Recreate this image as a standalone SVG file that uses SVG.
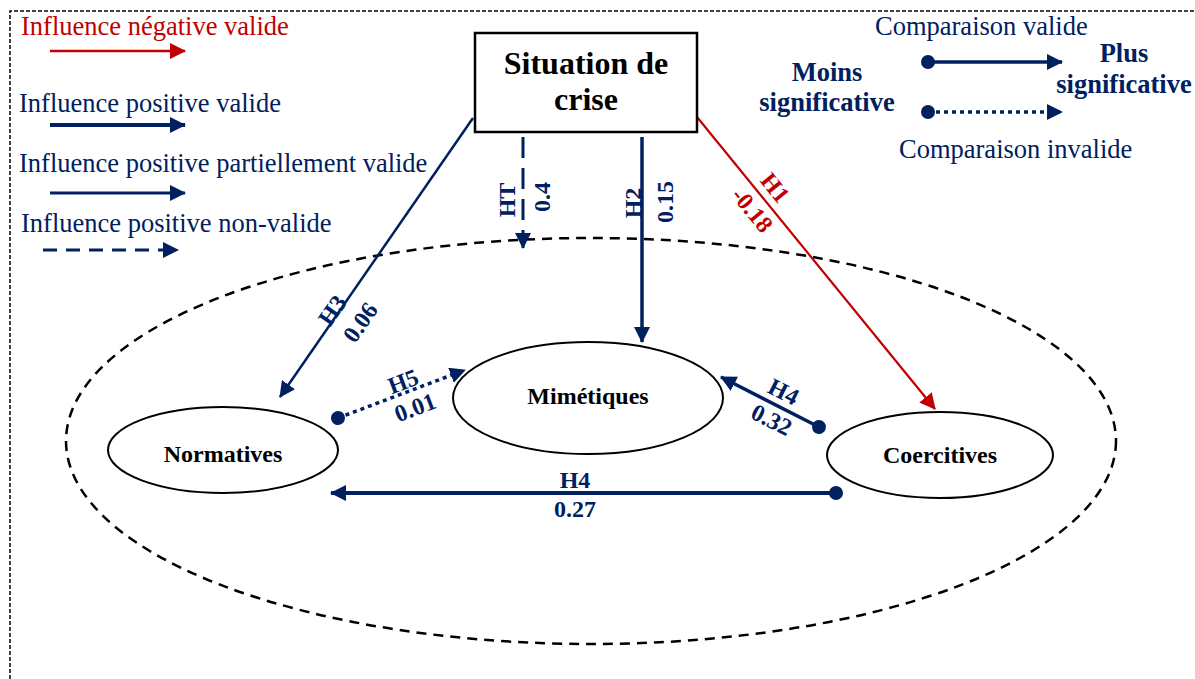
<svg xmlns="http://www.w3.org/2000/svg" width="1195" height="679" viewBox="0 0 1195 679">
<style>
.t{font-family:"Liberation Serif","Times New Roman",serif;}
.leg{font-size:26.5px;fill:#002060;}
.red{fill:#C00000;}
.bl{font-weight:bold;}
.node{fill:#fff;stroke:#000;stroke-width:2;}
.lab{font-family:"Liberation Serif","Times New Roman",serif;font-weight:bold;font-size:24px;fill:#002060;text-anchor:middle;}
.nl{font-family:"Liberation Serif","Times New Roman",serif;font-weight:bold;font-size:24px;fill:#000;text-anchor:middle;}
.nv{stroke:#002060;fill:none;}
.rd{stroke:#C00000;fill:none;}
</style>
<defs>
<marker id="an" markerUnits="userSpaceOnUse" markerWidth="16" markerHeight="16" refX="15" refY="8" orient="auto"><path d="M0,0 L16,8 L0,16 z" fill="#002060"/></marker>
<marker id="ar" markerUnits="userSpaceOnUse" markerWidth="16" markerHeight="16" refX="15" refY="8" orient="auto"><path d="M0,0 L16,8 L0,16 z" fill="#C00000"/></marker>
<marker id="dot" markerUnits="userSpaceOnUse" markerWidth="16" markerHeight="16" refX="8" refY="8" orient="auto"><circle cx="8" cy="8" r="7" fill="#002060"/></marker>
</defs>
<rect width="1195" height="679" fill="#fff"/>
<g id="frame" fill="none" stroke="#000" stroke-width="1.5" stroke-dasharray="4 2">
<path d="M10,679 L10,11 L1195,11"/>
</g>
<g id="scope">
<ellipse cx="591" cy="441" rx="525" ry="203" fill="none" stroke="#000" stroke-width="2.5" stroke-dasharray="10 7"/>
</g>
<g id="legend">
<text class="t leg red" x="21" y="35">Influence négative valide</text>
<line class="rd" x1="50" y1="51" x2="185" y2="51" stroke-width="2.5" marker-end="url(#ar)"/>
<text class="t leg" x="19" y="112">Influence positive valide</text>
<line class="nv" x1="50" y1="125" x2="185" y2="125" stroke-width="4" marker-end="url(#an)"/>
<text class="t leg" x="19" y="172">Influence positive partiellement valide</text>
<line class="nv" x1="50" y1="193" x2="185" y2="193" stroke-width="3" marker-end="url(#an)"/>
<text class="t leg" x="21" y="232">Influence positive non-valide</text>
<line class="nv" x1="43" y1="250" x2="178" y2="250" stroke-width="3" stroke-dasharray="14 9" marker-end="url(#an)"/>
<text class="t leg" x="875" y="35">Comparaison valide</text>
<line class="nv" x1="928" y1="62" x2="1062" y2="62" stroke-width="3.5" marker-start="url(#dot)" marker-end="url(#an)"/>
<line class="nv" x1="928" y1="112" x2="1062" y2="112" stroke-width="3.5" stroke-dasharray="4 4" marker-start="url(#dot)" marker-end="url(#an)"/>
<text class="t leg" x="899" y="158">Comparaison invalide</text>
<text class="t leg bl" x="827" y="81" text-anchor="middle">Moins</text>
<text class="t leg bl" x="827" y="111" text-anchor="middle">significative</text>
<text class="t leg bl" x="1124" y="62" text-anchor="middle">Plus</text>
<text class="t leg bl" x="1124" y="93" text-anchor="middle">significative</text>
</g>
<g id="connectors">
<line class="nv" x1="473" y1="118" x2="280" y2="397" stroke-width="2.5" marker-end="url(#an)"/>
<line class="nv" x1="523" y1="137" x2="523" y2="248" stroke-width="3" stroke-dasharray="21 10" marker-end="url(#an)"/>
<line class="nv" x1="642" y1="137" x2="642" y2="342" stroke-width="3.5" marker-end="url(#an)"/>
<line class="rd" x1="697" y1="117" x2="935" y2="409" stroke-width="2.2" marker-end="url(#ar)"/>
<line class="nv" x1="338" y1="418" x2="465" y2="370" stroke-width="3.5" stroke-dasharray="4 4" marker-start="url(#dot)" marker-end="url(#an)"/>
<line class="nv" x1="819" y1="427" x2="721" y2="377" stroke-width="3.5" marker-start="url(#dot)" marker-end="url(#an)"/>
<line class="nv" x1="836" y1="493" x2="331" y2="493" stroke-width="4" marker-start="url(#dot)" marker-end="url(#an)"/>
<text class="lab" transform="translate(339,315) rotate(-55.3)">H3</text>
<text class="lab" transform="translate(367,327) rotate(-55.3)">0.06</text>
<text class="lab" transform="translate(515,200) rotate(-90)">HT</text>
<text class="lab" transform="translate(550,197) rotate(-90)">0.4</text>
<text class="lab" transform="translate(641,203) rotate(-90)">H2</text>
<text class="lab" transform="translate(673,202) rotate(-90)">0.15</text>
<text class="lab" transform="translate(769,193) rotate(50.8)" style="fill:#C00000">H1</text>
<text class="lab" transform="translate(746,215) rotate(50.8)" style="fill:#C00000">-0.18</text>
<text class="lab" transform="translate(406,389) rotate(-20.7)">H5</text>
<text class="lab" transform="translate(418,415) rotate(-20.7)">0.01</text>
<text class="lab" transform="translate(780,399) rotate(26.8)">H4</text>
<text class="lab" transform="translate(768,427) rotate(26.8)">0.32</text>
<text class="lab" x="575" y="488">H4</text>
<text class="lab" x="575" y="517">0.27</text>
</g>
<g id="crise">
<rect x="475" y="33" width="222" height="99" fill="#fff" stroke="#000" stroke-width="2.5"/>
<text class="nl" x="586" y="74" style="font-size:32px">Situation de</text>
<text class="nl" x="586" y="110" style="font-size:32px">crise</text>
</g>
<g id="mimetiques">
<ellipse class="node" cx="588" cy="398" rx="135" ry="56"/>
<text class="nl" x="588" y="404">Mimétiques</text>
</g>
<g id="normatives">
<ellipse class="node" cx="223" cy="450" rx="115" ry="43"/>
<text class="nl" x="223" y="462">Normatives</text>
</g>
<g id="coercitives">
<ellipse class="node" cx="940" cy="455" rx="113" ry="43"/>
<text class="nl" x="940" y="463">Coercitives</text>
</g>
</svg>
